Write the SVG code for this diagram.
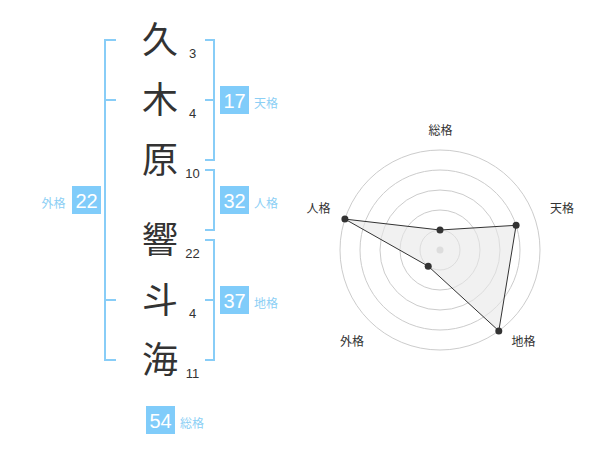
<svg xmlns="http://www.w3.org/2000/svg" width="600" height="470" viewBox="0 0 600 470">
<style>
.kanji{font-family:"Noto Sans CJK JP","Noto Sans CJK SC",sans-serif;font-size:36px;fill:#333;text-anchor:middle}
.num{font-family:"Liberation Sans",Arial,sans-serif;font-size:13px;fill:#333;text-anchor:middle}
.br{fill:none;stroke:#88cdf7;stroke-width:2}
.box{fill:#80ccfa}
.bnum{font-family:"Liberation Sans",Arial,sans-serif;font-size:20px;fill:#fff;text-anchor:middle}
.blab{font-family:"Noto Sans CJK JP","Noto Sans CJK SC",sans-serif;font-size:12px;fill:#8ccff5}
.ring{fill:none;stroke:#cccccc;stroke-width:1}
.rlab{font-family:"Noto Sans CJK JP","Noto Sans CJK SC",sans-serif;font-size:12px;fill:#333;text-anchor:middle}
.dot{fill:#333}
</style>
<rect width="600" height="470" fill="#fff"/>
<g id="name">
<text class="kanji" x="160" y="53">久</text>
<text class="kanji" x="160" y="113">木</text>
<text class="kanji" x="160" y="173">原</text>
<text class="kanji" x="160" y="253">響</text>
<text class="kanji" x="160" y="313">斗</text>
<text class="kanji" x="160" y="373">海</text>
<text class="num" x="192.5" y="58">3</text>
<text class="num" x="192.5" y="118">4</text>
<text class="num" x="192.5" y="178">10</text>
<text class="num" x="192.5" y="258">22</text>
<text class="num" x="192.5" y="318">4</text>
<text class="num" x="192.5" y="378">11</text>
</g>
<g id="connectors">
<path class="br" d="M116,40 H105 V360 H116 M105,100 H116 M105,300 H116"/>
<path class="br" d="M205,40 H214 V160 H205 M205,100 H214"/>
<path class="br" d="M205,170 H214 V230 H205"/>
<path class="br" d="M205,240 H214 V360 H205 M205,300 H214"/>
</g>
<g id="tenkaku">
<rect class="box" x="220" y="86" width="29" height="28"/>
<text class="bnum" x="234.5" y="107.5">17</text>
<text class="blab" x="254" y="108">天格</text>
</g>
<g id="jinkaku">
<rect class="box" x="220" y="186" width="29" height="28"/>
<text class="bnum" x="234.5" y="207.5">32</text>
<text class="blab" x="254" y="208">人格</text>
</g>
<g id="chikaku">
<rect class="box" x="220" y="286" width="29" height="28"/>
<text class="bnum" x="234.5" y="307.5">37</text>
<text class="blab" x="254" y="308">地格</text>
</g>
<g id="gaikaku">
<rect class="box" x="72" y="186" width="29" height="28"/>
<text class="bnum" x="86.5" y="207.5">22</text>
<text class="blab" x="41.5" y="208">外格</text>
</g>
<g id="soukaku">
<rect class="box" x="146" y="406" width="29" height="28"/>
<text class="bnum" x="160.5" y="427.5">54</text>
<text class="blab" x="180" y="428">総格</text>
</g>
<g id="radar">
<circle class="ring" cx="440" cy="250" r="20"/>
<circle class="ring" cx="440" cy="250" r="40"/>
<circle class="ring" cx="440" cy="250" r="60"/>
<circle class="ring" cx="440" cy="250" r="80"/>
<circle class="ring" cx="440" cy="250" r="100"/>
<circle cx="440" cy="250" r="3.5" fill="#cccccc"/>
<polygon points="440,230 516.1,225.3 498.8,330.9 428.2,266.2 344.9,219.1" fill="#e8e8e8" fill-opacity="0.6" stroke="#333" stroke-width="1"/>
<circle class="dot" cx="440" cy="230" r="3.5"/>
<circle class="dot" cx="516.1" cy="225.3" r="3.5"/>
<circle class="dot" cx="498.8" cy="330.9" r="3.5"/>
<circle class="dot" cx="428.2" cy="266.2" r="3.5"/>
<circle class="dot" cx="344.9" cy="219.1" r="3.5"/>
<text class="rlab" x="440.5" y="134.5">総格</text>
<text class="rlab" x="562" y="212.5">天格</text>
<text class="rlab" x="318.5" y="212.5">人格</text>
<text class="rlab" x="352" y="346">外格</text>
<text class="rlab" x="523.5" y="346">地格</text>
</g>
</svg>
